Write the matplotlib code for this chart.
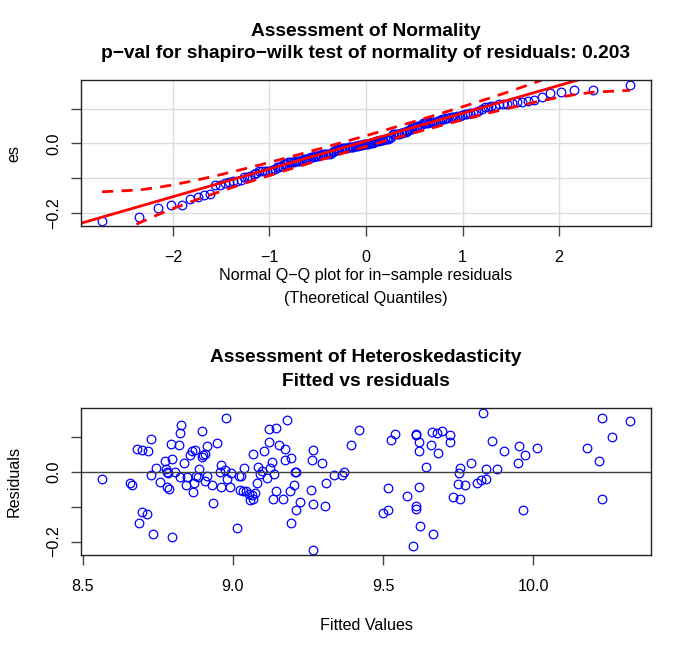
import numpy as np
import matplotlib
matplotlib.use('Agg')
import matplotlib.pyplot as plt
from statistics import NormalDist

plt.rcParams['font.family'] = ['Liberation Sans', 'DejaVu Sans']

fitted = [8.565, 8.657, 8.663, 8.682, 8.697, 8.718, 8.728, 8.726, 8.744, 8.759,
          8.698, 8.713, 8.689, 8.734, 8.775, 8.779, 8.782, 8.784, 8.782, 8.786,
          8.798, 8.793, 8.799, 8.806, 8.820, 8.823, 8.828, 8.824, 8.836, 8.846,
          8.845, 8.868, 8.859, 8.863, 8.875, 8.870, 8.879, 8.886, 8.883, 8.896,
          8.901, 8.907, 8.899, 8.913, 8.913, 8.907, 8.932, 8.935, 8.948, 8.957,
          8.962, 8.960, 8.973, 8.977, 8.981, 8.991, 8.993, 9.015, 9.021, 9.028,
          9.025, 9.037, 9.034, 9.043, 9.053, 9.063, 9.056, 9.068, 9.066, 9.074,
          9.079, 9.084, 9.089, 9.097, 9.103, 9.112, 9.120, 9.120, 9.142, 9.123,
          9.131, 9.137, 9.142, 9.134, 9.154, 9.172, 9.180, 9.168, 9.174, 9.195,
          9.190, 9.203, 9.206, 9.211, 9.210, 9.194, 9.225, 9.265, 9.263, 9.260,
          9.266, 9.266, 9.298, 9.309, 9.306, 9.336, 9.364, 9.369, 9.392, 9.420,
          9.517, 9.527, 9.541, 9.498, 9.517, 9.580, 9.598, 9.608, 9.611, 9.620,
          9.620, 9.620, 9.609, 9.610, 9.623, 9.642, 9.659, 9.663, 9.680, 9.697,
          9.682, 9.667, 9.724, 9.722, 9.733, 9.756, 9.754, 9.750, 9.771, 9.757,
          9.794, 9.813, 9.826, 9.841, 9.833, 9.841, 9.863, 9.879, 9.901, 9.949,
          9.953, 9.973, 9.965, 10.011, 10.177, 10.218, 10.227, 10.229, 10.263, 10.321]

residuos = [-0.020, -0.033, -0.038, 0.064, 0.062, 0.058, 0.094, -0.010, 0.012, -0.030,
            -0.114, -0.121, -0.148, -0.178, 0.031, 0.008, -0.002, -0.004, -0.045, -0.050,
            0.036, 0.079, -0.186, -0.002, 0.076, 0.112, 0.133, -0.015, 0.026, -0.015,
            -0.037, -0.059, 0.048, 0.060, 0.062, -0.032, -0.012, 0.008, -0.016, 0.041,
            0.048, 0.051, 0.118, 0.074, -0.012, -0.027, -0.039, -0.090, 0.082, 0.000,
            0.019, -0.043, 0.004, 0.155, -0.021, -0.045, -0.005, -0.162, -0.013, -0.013,
            -0.051, 0.010, -0.055, -0.055, -0.065, -0.067, -0.081, -0.079, 0.050, -0.061,
            -0.032, 0.014, -0.007, 0.002, 0.059, -0.017, 0.085, 0.122, 0.125, 0.010,
            0.027, -0.007, -0.054, -0.079, 0.076, 0.066, 0.147, -0.079, 0.034, 0.038,
            -0.054, -0.039, -0.001, -0.001, -0.110, -0.147, -0.087, 0.062, 0.033, -0.052,
            -0.093, -0.223, 0.026, -0.032, -0.097, -0.008, -0.010, 0.000, 0.077, 0.120,
            -0.047, 0.090, 0.108, -0.119, -0.110, -0.069, -0.213, 0.106, 0.107, 0.086,
            0.059, -0.045, -0.098, -0.106, -0.155, 0.013, 0.078, 0.114, 0.112, 0.117,
            0.053, -0.178, 0.106, 0.084, -0.073, 0.012, -0.004, -0.035, -0.038, -0.077,
            0.026, -0.032, -0.024, -0.020, 0.167, 0.009, 0.087, 0.008, 0.058, 0.026,
            0.074, 0.048, -0.111, 0.069, 0.069, 0.031, 0.154, -0.079, 0.100, 0.145]

qq_xticks = [-2, -1, 0, 1, 2]
qq_xlabels = ['\u22122', '\u22121', '0', '1', '2']
fit_xticks = [8.5, 9.0, 9.5, 10.0]
fit_xlabels = ['8.5', '9.0', '9.5', '10.0']
res_yticks = [-0.2, -0.1, 0.0, 0.1]
res_ylabels = ['\u22120.2', '', '0.0', '']

# Cuantiles teoricos (ppoints) y recta por los cuartiles
nd = NormalDist()
n = len(residuos)
res_ord = np.sort(residuos)
a = 0.5 if n > 10 else 3 / 8
P = (np.arange(1, n + 1) - a) / (n + 1 - 2 * a)
z = np.array([nd.inv_cdf(p) for p in P])

q1, q3 = np.percentile(res_ord, [25, 75])
zq1, zq3 = nd.inv_cdf(0.25), nd.inv_cdf(0.75)
b = (q3 - q1) / (zq3 - zq1)
a0 = q1 - b * zq1

# Banda de confianza 95%
zz = nd.inv_cdf(0.975)
dens = np.array([nd.pdf(v) for v in z])
SE = (b / dens) * np.sqrt(P * (1 - P) / n)
ajuste = a0 + b * z
sup = ajuste + zz * SE
inf = ajuste - zz * SE

fs_tit = 13.8
fs_lab = 11.6


def limites(v):
    r = max(v) - min(v)
    return min(v) - 0.04 * r, max(v) + 0.04 * r


def estilo(ax):
    for s in ax.spines.values():
        s.set_linewidth(1.0)
        s.set_color('#222222')
    ax.tick_params(direction='out', length=7, width=1.0, color='#444444',
                   labelsize=fs_lab, pad=7)
    ax.tick_params(axis='x', pad=10)
    ax.set_yticks(res_yticks)
    ax.set_yticklabels(res_ylabels, rotation=90, va='center')
    ax.set_ylim(limites(residuos))


fig = plt.figure(figsize=(6.92, 6.56), dpi=100)

# Grafico Q-Q
ax1 = fig.add_axes([81 / 692, 1 - 226 / 656, 570 / 692, 146 / 656])
ax1.set_axisbelow(True)
ax1.grid(color='#dcdcdc', lw=1)
ax1.plot(z, res_ord, 'o', mfc='none', mec='blue', ms=6.2, mew=0.9)
ax1.axline((0, a0), slope=b, color='red', lw=2)
ax1.plot(z, sup, color='red', lw=2, ls=(0, (4, 3)))
ax1.plot(z, inf, color='red', lw=2, ls=(0, (4, 3)))
ax1.set_xlim(limites(z))
ax1.set_xticks(qq_xticks)
ax1.set_xticklabels(qq_xlabels)
estilo(ax1)

# Residuos vs ajustados
ax2 = fig.add_axes([81 / 692, 1 - 555 / 656, 570 / 692, 147 / 656])
ax2.plot(fitted, residuos, 'o', mfc='none', mec='blue', ms=6.2, mew=0.9)
ax2.axhline(0, color='#404040', lw=1)
ax2.set_xlim(limites(fitted))
ax2.set_xticks(fit_xticks)
ax2.set_xticklabels(fit_xlabels)
estilo(ax2)

# Titulos y etiquetas
cx = 366 / 692
fig.text(cx, 1 - 31 / 656, 'Assessment of Normality', ha='center', va='center',
         fontsize=fs_tit, fontweight='bold')
fig.text(cx, 1 - 53 / 656, 'p\u2212val for shapiro\u2212wilk test of normality of residuals: 0.203',
         ha='center', va='center', fontsize=fs_tit, fontweight='bold')
fig.text(cx, 1 - 276 / 656, 'Normal Q\u2212Q plot for in\u2212sample residuals',
         ha='center', va='center', fontsize=fs_lab)
fig.text(cx, 1 - 298 / 656, '(Theoretical Quantiles)', ha='center', va='center', fontsize=fs_lab)
fig.text(14 / 692, 1 - 153 / 656, 'es', rotation=90, ha='center', va='center', fontsize=fs_lab)

fig.text(cx, 1 - 358 / 656, 'Assessment of Heteroskedasticity', ha='center', va='center',
         fontsize=fs_tit, fontweight='bold')
fig.text(cx, 1 - 382 / 656, 'Fitted vs residuals', ha='center', va='center',
         fontsize=fs_tit, fontweight='bold')
fig.text(cx, 1 - 626 / 656, 'Fitted Values', ha='center', va='center', fontsize=fs_lab)
fig.text(14 / 692, 1 - 481 / 656, 'Residuals', rotation=90, ha='center', va='center', fontsize=fs_lab)

fig.savefig('out.png', dpi=100)
